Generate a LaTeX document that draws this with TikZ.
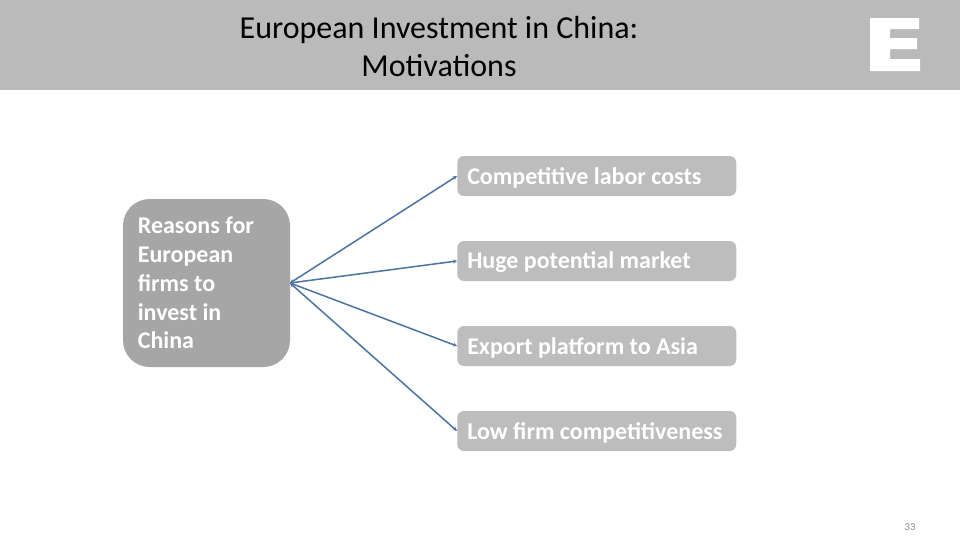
\documentclass[tikz,border=0pt]{standalone}
\usepackage{fontspec}
\setmainfont{Carlito}
\usetikzlibrary{arrows.meta}
\definecolor{headgrey}{HTML}{BABABA}
\definecolor{boxgrey}{HTML}{BDBDBD}
\definecolor{bigbox}{HTML}{A6A6A6}
\definecolor{linkblue}{HTML}{4F76A3}
\definecolor{pagegrey}{HTML}{8C8C8C}
\tikzset{
  x=0.75pt,y=-0.75pt,
  tightwords/.style={execute at begin node={\hyphenpenalty=10000 \spaceskip=0.226em\relax}},
  reason/.style={fill=boxgrey,rounded corners=5pt,minimum width=209.25pt,minimum height=30pt,
    inner xsep=7.5pt,inner ysep=0pt,anchor=west,text=white,font=\fontsize{18}{20}\selectfont\bfseries,text width=194.25pt,align=left,tightwords},
  source/.style={fill=bigbox,rounded corners=20pt,minimum width=125.25pt,minimum height=126pt,
    inner xsep=11pt,inner ysep=0pt,anchor=center,text=white,font=\fontsize{18}{21.6}\selectfont\bfseries,text width=103pt,align=left,tightwords},
  link/.style={draw=linkblue,line width=1.15pt,{Stealth[length=3pt,width=3pt]}-{Stealth[length=3pt,width=3pt]}},
  titletext/.style={font=\fontsize{24}{29}\selectfont,align=center,text=black,inner sep=0pt}
}
\begin{document}
\begin{tikzpicture}
\useasboundingbox (0,0) rectangle (960,540);
\fill[white] (0,0) rectangle (960,540);
\fill[headgrey] (0,0) rectangle (960,90);
\fill[white] (870,18) -- (919,18) -- (919,29) -- (890,29) -- (890,38) -- (917,38) -- (917,49) -- (890,49) -- (890,59) -- (920,59) -- (920,71) -- (870,71) -- cycle;
\node[titletext] (title) at (439,46.5) {European Investment in China:\\Motivations};
\node[source] (src) at (206.5,283) {Reasons for\\European\\firms to\\invest in\\China};
\node[reason] (r1) at (457,176) {\rule{0pt}{15pt}Competitive labor costs};
\node[reason] (r2) at (457,261) {\rule{0pt}{15pt}Huge potential market};
\node[reason] (r3) at (457,346) {\rule{0pt}{15pt}Export platform to Asia};
\node[reason] (r4) at (457,431) {\rule{0pt}{15pt}Low firm competitiveness};
\coordinate (hub) at (290,283);
\draw[link] (hub) -- (r1.west);
\draw[link] (hub) -- (r2.west);
\draw[link] (hub) -- (r3.west);
\draw[link] (hub) -- (r4.west);
\node[font=\fontsize{8}{10}\selectfont,text=pagegrey,inner sep=0pt] (page) at (910,527) {33};
\end{tikzpicture}
\end{document}
